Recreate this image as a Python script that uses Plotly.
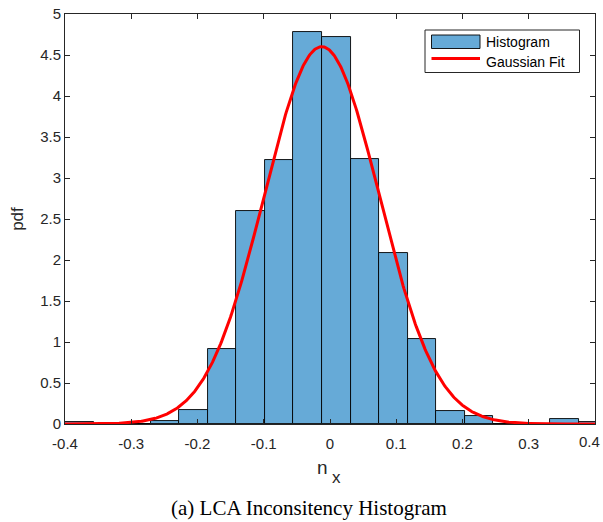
import numpy as np
import plotly.graph_objects as go

# Histogram data (pdf-normalised), bins of equal width starting at -0.4
bin_start = -0.4
bin_width = 0.0431
pdf_values = [0.02, 0.0, 0.0, 0.04, 0.17, 0.91, 2.60, 3.22, 4.78, 4.72,
              3.23, 2.08, 1.04, 0.16, 0.10, 0.0, 0.0, 0.06, 0.03]

# Gaussian fit parameters
fit_mean = -0.0125
fit_std = 0.0867

x_ticks = [-0.4, -0.3, -0.2, -0.1, 0, 0.1, 0.2, 0.3, 0.4]
x_tick_labels = ["-0.4", "-0.3", "-0.2", "-0.1", "0", "0.1", "0.2", "0.3", "0.4"]
y_ticks = [0, 0.5, 1, 1.5, 2, 2.5, 3, 3.5, 4, 4.5, 5]
y_tick_labels = ["0", "0.5", "1", "1.5", "2", "2.5", "3", "3.5", "4", "4.5", "5"]

legend_labels = ["Histogram", "Gaussian Fit"]
x_title_main = "n"
x_title_sub = "x"
caption = "(a) LCA Inconsitency Histogram"

BAR_COLOR = "rgb(102,170,215)"
FIT_COLOR = "rgb(255,0,0)"
AX_COLOR = "#262626"
SANS = "Liberation Sans, Arial"

centers = [bin_start + (i + 0.5) * bin_width for i in range(len(pdf_values))]

xs = np.linspace(-0.4, 0.4, 600)
ys = np.exp(-0.5 * ((xs - fit_mean) / fit_std) ** 2) / (fit_std * np.sqrt(2 * np.pi))

fig = go.Figure()
fig.add_trace(go.Bar(
    x=centers, y=pdf_values, width=bin_width, name=legend_labels[0],
    marker=dict(color=BAR_COLOR, line=dict(color="black", width=0.9)),
))
fig.add_trace(go.Scatter(
    x=xs, y=ys, mode="lines", name=legend_labels[1],
    line=dict(color=FIT_COLOR, width=3),
))

axis_common = dict(
    showline=True, linecolor=AX_COLOR, linewidth=1, mirror="ticks",
    ticks="inside", ticklen=5, tickcolor=AX_COLOR, showgrid=False, zeroline=False,
    tickfont=dict(family=SANS, size=15, color=AX_COLOR), automargin=False,
)

# plot area in pixels: x 65..595, y 14..424
def px(xp):
    return (xp - 65) / 530.0

def py(yp):
    return (424 - yp) / 410.0

shapes = [
    # legend box
    dict(type="rect", xref="paper", yref="paper", x0=px(425), x1=px(579.5),
         y0=py(72.5), y1=py(30), fillcolor="white", line=dict(color=AX_COLOR, width=1)),
    # histogram swatch
    dict(type="rect", xref="paper", yref="paper", x0=px(431.5), x1=px(480),
         y0=py(48.5), y1=py(35), fillcolor=BAR_COLOR, line=dict(color="black", width=0.9)),
    # fit swatch
    dict(type="line", xref="paper", yref="paper", x0=px(431.5), x1=px(480),
         y0=py(58.5), y1=py(58.5), line=dict(color=FIT_COLOR, width=3)),
]

annotations = [
    dict(text=legend_labels[0], xref="paper", yref="paper", x=px(484), y=py(41.8),
         xanchor="left", yanchor="middle", showarrow=False,
         font=dict(family=SANS, size=14, color="black")),
    dict(text=legend_labels[1], xref="paper", yref="paper", x=px(484), y=py(61.5),
         xanchor="left", yanchor="middle", showarrow=False,
         font=dict(family=SANS, size=14, color="black")),
    # last x tick label, nudged inward so it stays inside the picture
    dict(text=x_tick_labels[-1], xref="paper", yref="paper", x=px(602), y=py(441.5),
         xanchor="right", yanchor="middle", showarrow=False,
         font=dict(family=SANS, size=15, color=AX_COLOR)),
    # x-axis title n_x (MATLAB-style large subscript)
    dict(text=x_title_main, xref="paper", yref="paper", x=px(315), y=py(467.5),
         xanchor="left", yanchor="middle", showarrow=False,
         font=dict(family=SANS, size=19, color=AX_COLOR)),
    dict(text=x_title_sub, xref="paper", yref="paper", x=px(329.5), y=py(477),
         xanchor="left", yanchor="middle", showarrow=False,
         font=dict(family=SANS, size=17, color=AX_COLOR)),
    dict(text=caption, xref="paper", yref="paper", x=px(309), y=py(508),
         xanchor="center", yanchor="middle", showarrow=False,
         font=dict(family="Liberation Serif, Times New Roman", size=21, color="black")),
]

shown_x_labels = x_tick_labels[:-1] + [""]

fig.update_layout(
    width=603, height=522,
    margin=dict(l=65, r=8, t=14, b=98),
    paper_bgcolor="white", plot_bgcolor="white",
    bargap=0,
    showlegend=False,
    xaxis=dict(range=[-0.4000001, 0.4000001], tickvals=x_ticks, ticktext=shown_x_labels,
               ticklabelstandoff=6,
               **axis_common),
    yaxis=dict(range=[0, 5], tickvals=y_ticks, ticktext=y_tick_labels,
               title=dict(text="pdf", standoff=12,
                          font=dict(family=SANS, size=17, color=AX_COLOR)),
               **axis_common),
    shapes=shapes,
    annotations=annotations,
)

fig.write_html("out.html", config={"displayModeBar": False})
